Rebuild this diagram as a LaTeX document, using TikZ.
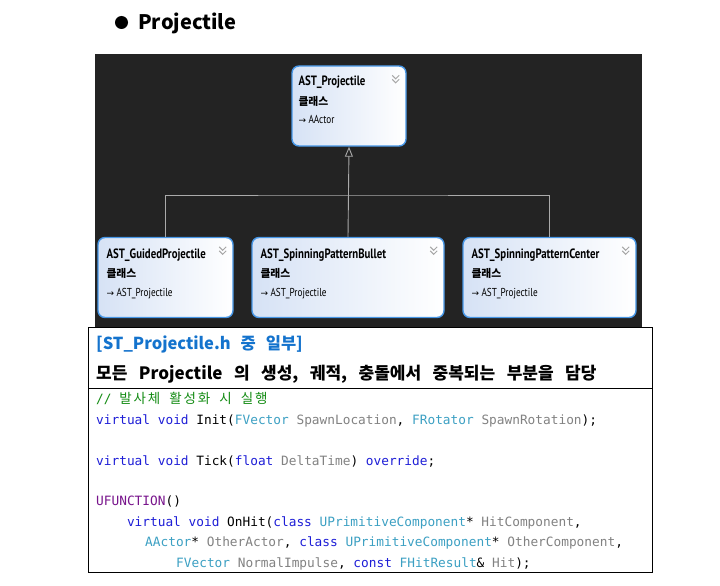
\documentclass[tikz,border=0pt]{standalone}
\usepackage{fontspec}
\usetikzlibrary{arrows.meta,calc}
\setmonofont{DejaVu Sans Mono}
\newfontfamily\krfont{Noto Sans CJK KR}
\newfontfamily\krcode[LetterSpace=14]{Noto Sans CJK KR}
\newfontfamily\boxfont[FakeStretch=0.8]{PT Sans}
\newfontfamily\symfont{DejaVu Sans}

\definecolor{panel}{RGB}{35,35,35}
\definecolor{clsborder}{RGB}{70,150,230}
\definecolor{clsleft}{RGB}{214,226,245}
\definecolor{linkgray}{RGB}{170,170,170}
\definecolor{headblue}{RGB}{20,115,205}
\definecolor{kwblue}{RGB}{30,30,215}
\definecolor{typeteal}{RGB}{60,160,195}
\definecolor{paramgray}{RGB}{130,130,130}
\definecolor{macropurple}{RGB}{120,20,140}
\definecolor{commentgreen}{RGB}{20,140,20}

\newcommand{\codekw}[1]{{\color{kwblue}#1}}
\newcommand{\codetype}[1]{{\color{typeteal}#1}}
\newcommand{\codeparam}[1]{{\color{paramgray}#1}}
\newcommand{\codemacro}[1]{{\color{macropurple}#1}}

\begin{document}
\begin{tikzpicture}[x=1pt,y=-1pt,
    cls/.style={draw=clsborder, line width=1.4pt, rounded corners=7pt,
        left color=clsleft, right color=white, minimum height=80pt, inner sep=0pt},
    clsname/.style={anchor=base west, inner sep=0pt, font=\boxfont\bfseries\fontsize{13.5}{15}\selectfont},
    clskind/.style={anchor=base west, inner sep=0pt, font=\krfont\bfseries\fontsize{10.8}{12}\selectfont},
    clssuper/.style={anchor=base west, inner sep=0pt, font=\boxfont\fontsize{11.5}{12}\selectfont},
    link/.style={draw=linkgray, line width=0.9pt},
    frame/.style={draw=black, line width=0.8pt},
    code/.style={anchor=base west, inner sep=0pt, font=\ttfamily\fontsize{12.8}{15}\selectfont},
    pics/chevron/.style={code={
        \draw[gray!70, line width=1pt] (-3.5,-3.5) -- (0,0) -- (3.5,-3.5);
        \draw[gray!70, line width=1pt] (-3.5,0.5) -- (0,4) -- (3.5,0.5);}}
  ]
\useasboundingbox (0,0) rectangle (720,586);
\fill[white] (0,0) rectangle (720,586);

% title
\fill (121.5,22.5) circle (6.5);
\node[anchor=base west, inner sep=0pt, font=\krfont\bfseries\fontsize{20}{24}\selectfont] (title) at (138,30) {Projectile};

% class diagram
\fill[panel] (95,54) rectangle (642,327);
\node[cls, minimum width=114pt] (base) at (349,106) {};
\node[cls, minimum width=135pt] (guided) at (165.5,277.5) {};
\node[cls, minimum width=192pt] (bullet) at (348,277.5) {};
\node[cls, minimum width=173pt] (center) at (549.5,277.5) {};

\foreach \b/\cname/\csuper/\dx/\dy in {base/AST\_Projectile/AActor/7/20.5,
    guided/AST\_GuidedProjectile/AST\_Projectile/9/21.5,
    bullet/AST\_SpinningPatternBullet/AST\_Projectile/9/21.5,
    center/AST\_SpinningPatternCenter/AST\_Projectile/9/21.5}{
  \node[clsname] (\b-name) at ($(\b.north west)+(\dx,\dy)$) {\cname};
  \node[clskind] (\b-kind) at ($(\b.north west)+(\dx,\dy+19.5)$) {클래스};
  \node[clssuper] (\b-super) at ($(\b.north west)+(\dx,\dy+38)$)
    {{\symfont\fontsize{9}{10}\selectfont →}\hspace{2.5pt}\csuper};
  \pic at ($(\b.north east)+(-11,13.5)$) {chevron};
}

\coordinate (bus) at (349,195);
\draw[link] (guided.north) |- (bus) -| (center.north);
\draw[link, -{Triangle[open, length=10pt, width=8pt]}] (bullet.north) -- (base.south);

% description
\draw[frame] (88,327) rectangle (652,388);
\draw[frame] (88,388) rectangle (652,572);
\node[anchor=base west, inner sep=0pt, text=headblue,
    font=\krfont\bfseries\fontsize{16.5}{18}\selectfont] (file) at (96,349)
    {\spaceskip=10pt [ST\_Projectile.h 중 일부]};
\node[anchor=base west, inner sep=0pt,
    font=\krfont\bfseries\fontsize{17}{19}\selectfont] (summary) at (96,379.5)
    {\spaceskip=11.5pt 모든 Projectile 의 생성, 궤적, 충돌에서 중복되는 부분을 담당};

% code
\node[code] (c1) at (96,403) {\color{commentgreen}// {\krcode\fontsize{13.5}{15}\selectfont\spaceskip=9pt 발사체 활성화 시 실행}};
\node[code] (c2) at (96,424) {\codekw{virtual void} Init(\codetype{FVector} \codeparam{SpawnLocation}, \codetype{FRotator} \codeparam{SpawnRotation});};
\node[code] (c3) at (96,465) {\codekw{virtual void} Tick(\codekw{float} \codeparam{DeltaTime}) \codekw{override};};
\node[code] (c4) at (96,505) {\codemacro{UFUNCTION}()};
\node[code] (c5) at (126.8,526) {\codekw{virtual void} OnHit(\codekw{class} \codetype{UPrimitiveComponent}* \codeparam{HitComponent},};
\node[code] (c6) at (145,546) {\codetype{AActor}* \codeparam{OtherActor}, \codekw{class} \codetype{UPrimitiveComponent}* \codeparam{OtherComponent},};
\node[code] (c7) at (176,567) {\codetype{FVector} \codeparam{NormalImpulse}, \codekw{const} \codetype{FHitResult}\& \codeparam{Hit});};
\end{tikzpicture}
\end{document}
